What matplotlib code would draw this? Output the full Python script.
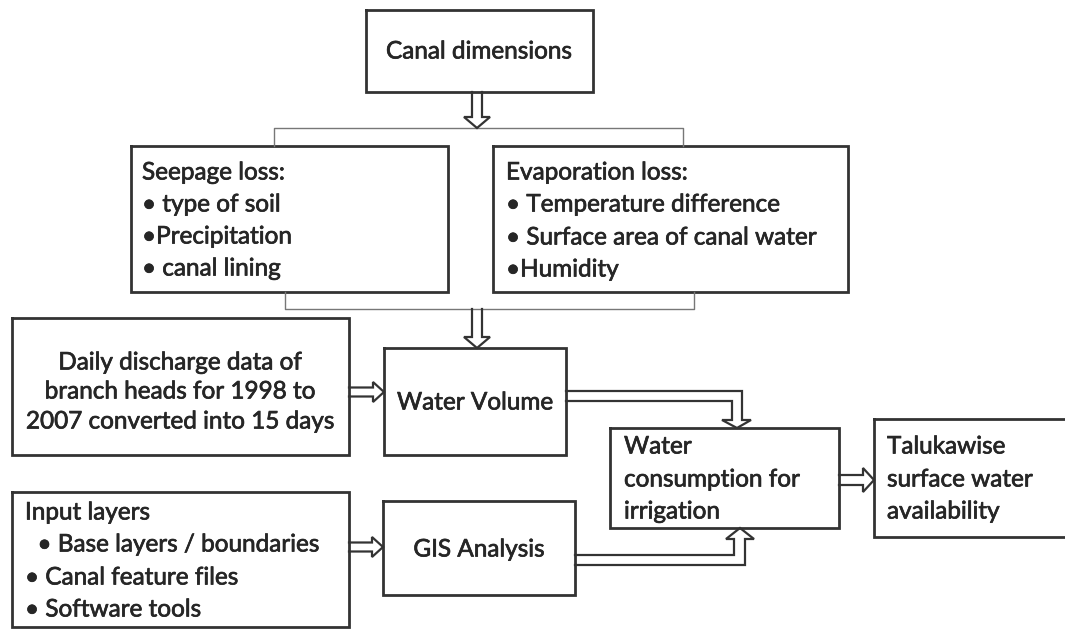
import matplotlib.pyplot as plt
import matplotlib.patheffects as pe
import numpy as np

# Box texts
top_label = "Canal dimensions"
seepage_lines = ["Seepage loss:", "\u2022 type of soil", "\u2022Precipitation", "\u2022 canal lining"]
evap_lines = ["Evaporation loss:", "\u2022 Temperature difference",
              "\u2022 Surface area of canal water", "\u2022Humidity"]
discharge_lines = ["Daily discharge data of", "branch heads for 1998 to",
                   "2007 converted into 15 days"]
volume_label = "Water Volume"
consumption_lines = ["Water", "consumption for", "irrigation"]
output_lines = ["Talukawise", "surface water", "availability"]
gis_label = "GIS Analysis"
input_lines = ["Input layers", "  \u2022 Base layers / boundaries",
               "\u2022 Canal feature files", "\u2022 Software tools"]

W, H = 1065, 629
EDGE = '#333333'
TXT = '#262626'
FS = 17.5
plt.rcParams['font.family'] = ['Lato', 'DejaVu Sans']
thick = [pe.withStroke(linewidth=0.5, foreground=TXT)]

fig = plt.figure(figsize=(W / 100, H / 100), dpi=100)
ax = fig.add_axes([0, 0, 1, 1])
ax.set_xlim(0, W)
ax.set_ylim(H, 0)
ax.axis('off')


def box(x0, y0, x1, y1):
    ax.plot([x0, x1, x1, x0, x0], [y0, y0, y1, y1, y0], color=EDGE, lw=2.0,
            solid_joinstyle='miter')


def put(x, y, s, ha='left'):
    ax.text(x, y, s, ha=ha, va='center', fontsize=FS, color=TXT,
            path_effects=thick)


def lines_left(x, ys, lines):
    for y, s in zip(ys, lines):
        put(x, y, s)


def lines_center(x, ys, lines):
    for y, s in zip(ys, lines):
        put(x, y, s, ha='center')


def hollow_arrow(p0, p1, gap=10, head_w=26, head_l=11):
    p0 = np.array(p0, float)
    p1 = np.array(p1, float)
    d = (p1 - p0) / np.linalg.norm(p1 - p0)
    n = np.array([-d[1], d[0]])
    base = p1 - d * head_l
    pts = np.array([p0 + n * gap / 2, base + n * gap / 2, base + n * head_w / 2, p1,
                    base - n * head_w / 2, base - n * gap / 2, p0 - n * gap / 2])
    ax.plot(pts[:, 0], pts[:, 1], color=EDGE, lw=1.6, solid_joinstyle='miter')


# boxes
box(366, 10, 593, 92)
box(131, 146, 448, 292)
box(493, 146, 848, 292)
box(12, 318, 349, 455)
box(384, 348, 566, 455)
box(610, 428, 839, 528)
box(874, 419, 1075, 537)
box(383, 501, 575, 595)
box(12, 492, 349, 627)

# brackets
ax.plot([274, 274, 683, 683], [146, 128, 128, 146], color='#777777', lw=1.0)
ax.plot([285, 285, 694, 694], [292, 309, 309, 292], color='#777777', lw=1.0)

# straight arrows
hollow_arrow((477, 92), (477, 128))
hollow_arrow((477, 309), (477, 348))
hollow_arrow((349, 392), (384, 392), gap=9, head_w=20)
hollow_arrow((349, 547), (383, 547), gap=9, head_w=20)
hollow_arrow((839, 480), (874, 480), gap=10, head_w=24)

# L-shaped arrows
ax.plot([566, 742, 742, 751, 737, 722, 732, 732, 566],
        [391, 391, 420, 420, 428, 420, 420, 401, 401],
        color=EDGE, lw=1.6, solid_joinstyle='miter')
ax.plot([575, 734, 734, 726, 740, 754, 745, 745, 575],
        [555, 555, 539, 539, 528, 539, 539, 565, 565],
        color=EDGE, lw=1.6, solid_joinstyle='miter')

# texts
put(479, 52, top_label, ha='center')
lines_left(142, [173, 205, 237, 269], seepage_lines)
lines_left(506, [173, 205, 238, 270], evap_lines)
lines_center(180, [363, 392, 422], discharge_lines)
put(475, 403, volume_label, ha='center')
lines_left(624, [447, 480, 512], consumption_lines)
lines_left(887, [447, 480, 512], output_lines)
put(479, 550, gis_label, ha='center')
lines_left(25, [513, 545, 578, 610], input_lines)

fig.savefig('out.png', dpi=100, facecolor='white')
